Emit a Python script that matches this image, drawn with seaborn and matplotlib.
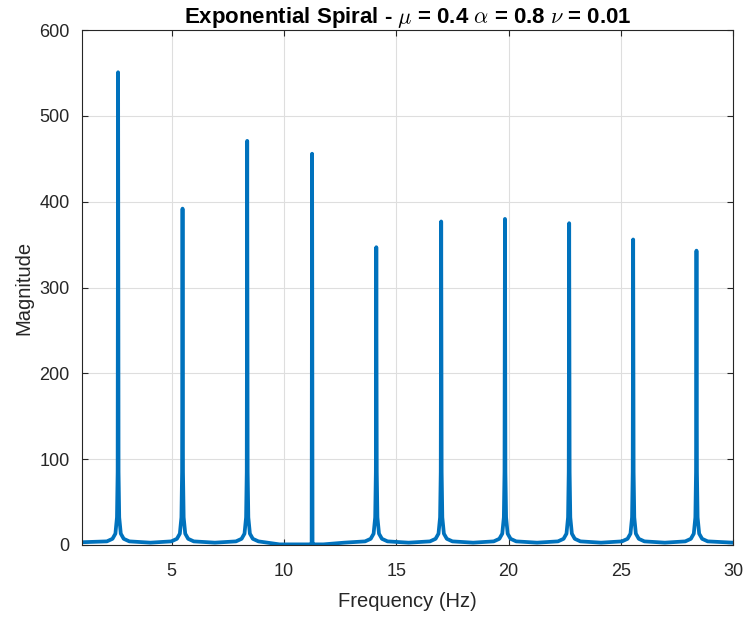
import matplotlib
matplotlib.use("Agg")
import matplotlib.pyplot as plt
import seaborn as sns
import pandas as pd

# Peak positions (Hz) and heights
peak_freq = [2.61, 5.48, 8.36, 11.25, 14.11, 17.00, 19.84, 22.70, 25.55, 28.37]
peak_mag = [551, 392, 471, 456, 347, 377, 380, 375, 356, 343]

# Shape of the flare at the foot of each peak (offset in Hz, magnitude)
skirt_offset = [-0.5, -0.25, -0.12, -0.05, -0.02, 0.02, 0.05, 0.12, 0.25, 0.5]
skirt_mag = [4, 7, 13, 32, 85, 85, 32, 13, 7, 4]
# the peak near 11 Hz has no flare at all
sharp_skirt_mag = [0.5, 0.5, 0.5, 0.5, 0.5, 0.5, 0.5, 0.5, 0.5, 0.5]
sharp_peaks = [3]

# Floor level between peaks
base_freq = [1.0, 4.05, 6.92, 9.80, 12.68, 15.55, 18.42, 21.27, 24.12, 26.96, 30.0]
base_mag = [3, 2.5, 2.5, 0.5, 2.5, 2.5, 2.5, 2.5, 2.5, 2.5, 2.5]

xticks = [5, 10, 15, 20, 25, 30]
yticks = [0, 100, 200, 300, 400, 500, 600]

# assemble the spectrum from the points above
freq = list(base_freq)
mag = list(base_mag)
for i, (f, m) in enumerate(zip(peak_freq, peak_mag)):
    skirt = sharp_skirt_mag if i in sharp_peaks else skirt_mag
    for off, s in zip(skirt_offset, skirt):
        freq.append(f + off)
        mag.append(s)
    freq.append(f)
    mag.append(m)
df = pd.DataFrame({"Frequency": freq, "Magnitude": mag}).sort_values("Frequency")

sns.set_theme(style="white")
plt.rcParams["font.family"] = ["Liberation Sans", "DejaVu Sans"]
plt.rcParams["mathtext.fontset"] = "cm"

fig = plt.figure(figsize=(7.45, 6.17), dpi=100)
ax = fig.add_axes([0.110, 0.117, 0.874, 0.834])

sns.lineplot(data=df, x="Frequency", y="Magnitude", ax=ax, color="#0072BD",
             linewidth=2.7, estimator=None, sort=True)

ax.set_xlim(1, 30)
ax.set_ylim(0, 600)
ax.set_xticks(xticks)
ax.set_yticks(yticks)
ax.grid(True, color="#dedede", linewidth=0.8)
ax.set_axisbelow(True)
for side in ["top", "right", "bottom", "left"]:
    ax.spines[side].set_visible(True)
    ax.spines[side].set_color("#262626")
    ax.spines[side].set_linewidth(0.8)
ax.tick_params(direction="in", length=4, width=0.8, colors="#262626",
               labelsize=13, top=True, right=True, bottom=True, left=True,
               labeltop=False, labelright=False)
ax.tick_params(axis="x", pad=13)
ax.tick_params(axis="y", pad=9)

ax.set_xlabel("Frequency (Hz)", fontsize=14.5, color="#262626", labelpad=9)
ax.set_ylabel("Magnitude", fontsize=14.5, color="#262626", labelpad=4)
ax.set_title(r"Exponential Spiral - $\mu$ = 0.4 $\alpha$ = 0.8 $\nu$ = 0.01",
             fontsize=16, fontweight="bold", color="#000000", pad=5)

fig.savefig("out.png", dpi=100)
